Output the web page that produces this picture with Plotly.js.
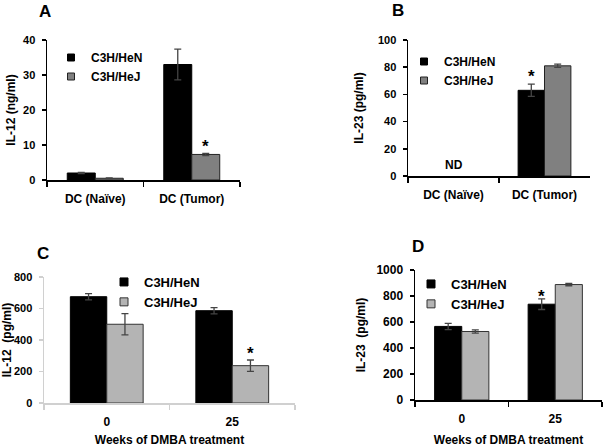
<!DOCTYPE html>
<html>
<head>
<meta charset="utf-8">
<script src="https://cdn.plot.ly/plotly-3.0.1.min.js"></script>
<style>html,body{margin:0;padding:0;background:#fff;}#chart{width:603px;height:447px;}</style>
</head>
<body>
<div id="chart"></div>
<script>
// ---- Data ----
const seriesNames = ['C3H/HeN', 'C3H/HeJ'];

const catsAB = ['DC (Naïve)', 'DC (Tumor)'];
const a_HeN = [2.0, 33.0];
const a_HeN_err = [0.2, 4.4];
const a_HeJ = [0.5, 7.3];
const a_HeJ_err = [0.1, 0.3];

const b_HeN = [null, 63];
const b_HeN_err = [0, 4.5];
const b_HeJ = [null, 81];
const b_HeJ_err = [0, 1.2];

const catsCD = ['0', '25'];
const c_HeN = [675, 586];
const c_HeN_err = [20, 20];
const c_HeJ = [500, 237];
const c_HeJ_err = [68, 36];

const d_HeN = [566, 737];
const d_HeN_err = [24, 41];
const d_HeJ = [527, 888];
const d_HeJ_err = [13, 9];

// ---- Layout helpers ----
const W = 603, H = 447;
const px = v => v / W;
const py = v => 1 - v / H;
const FONT = 'Liberation Sans, Arial, sans-serif';
const bold = (t) => '<b>' + t + '</b>';

function bar(x, y, err, color, lineColor, xa, ya) {
  return {
    type: 'bar', x: x, y: y, showlegend: false,
    xaxis: xa, yaxis: ya,
    marker: {color: color, line: {color: lineColor, width: 1}},
    error_y: {type: 'data', array: err, visible: true, color: '#444', thickness: 1.3, width: 3.5},
    hoverinfo: 'none'
  };
}
// legend-only entries (small square keys, as in the original figure)
function key(name, color, lineColor, xa, ya, leg, size) {
  return {
    type: 'scatter', mode: 'markers', x: [null], y: [null], name: bold(name),
    xaxis: xa, yaxis: ya, legend: leg, showlegend: true,
    marker: {symbol: 'square', size: size, color: color, line: {color: lineColor, width: 1}},
    hoverinfo: 'none'
  };
}

const darkGray = '#808080', lightGray = '#b4b4b4';
const data = [
  bar(catsAB, a_HeN, a_HeN_err, '#000', '#000', 'x', 'y'),
  bar(catsAB, a_HeJ, a_HeJ_err, darkGray, '#222', 'x', 'y'),
  bar(catsAB, b_HeN, b_HeN_err, '#000', '#000', 'x2', 'y2'),
  bar(catsAB, b_HeJ, b_HeJ_err, darkGray, '#222', 'x2', 'y2'),
  bar(catsCD, c_HeN, c_HeN_err, '#000', '#000', 'x3', 'y3'),
  bar(catsCD, c_HeJ, c_HeJ_err, lightGray, '#333', 'x3', 'y3'),
  bar(catsCD, d_HeN, d_HeN_err, '#000', '#000', 'x4', 'y4'),
  bar(catsCD, d_HeJ, d_HeJ_err, lightGray, '#333', 'x4', 'y4'),
  key(seriesNames[0], '#000', '#000', 'x', 'y', 'legend', 7),
  key(seriesNames[1], darkGray, '#222', 'x', 'y', 'legend', 7),
  key(seriesNames[0], '#000', '#000', 'x2', 'y2', 'legend2', 7),
  key(seriesNames[1], darkGray, '#222', 'x2', 'y2', 'legend2', 7),
  key(seriesNames[0], '#000', '#000', 'x3', 'y3', 'legend3', 8),
  key(seriesNames[1], lightGray, '#333', 'x3', 'y3', 'legend3', 8),
  key(seriesNames[0], '#000', '#000', 'x4', 'y4', 'legend4', 8),
  key(seriesNames[1], lightGray, '#333', 'x4', 'y4', 'legend4', 8)
];

function xAxis(dom, ya, cats, lineColor, titleText) {
  const ax = {
    domain: dom, anchor: ya, type: 'category',
    categoryorder: 'array', categoryarray: cats,
    tickvals: cats, ticktext: cats.map(bold),
    showline: true, linecolor: lineColor, linewidth: 1.5,
    ticks: 'outside', tickson: 'boundaries', ticklen: 5, tickcolor: lineColor, tickwidth: 1.5,
    ticklabelstandoff: 7,
    showgrid: false, zeroline: false, fixedrange: true, automargin: false,
    tickfont: {family: FONT, size: 12, color: '#000'}
  };
  if (titleText) ax.title = {text: bold(titleText), font: {family: FONT, size: 12, color: '#000'}, standoff: 13};
  return ax;
}
function yAxis(dom, xa, range, dtick, lineColor, titleText, standoff, fs) {
  const vals = [];
  for (let v = range[0]; v <= range[1] + 1e-9; v += dtick) vals.push(v);
  return {
    domain: dom, anchor: xa, range: range,
    tickvals: vals, ticktext: vals.map(v => bold(String(v))),
    showline: true, linecolor: lineColor, linewidth: 1.5,
    ticks: 'outside', ticklen: 4, tickcolor: lineColor, tickwidth: 1.5,
    ticklabelstandoff: 4,
    showgrid: false, zeroline: false, fixedrange: true, automargin: false,
    tickfont: {family: FONT, size: fs, color: '#000'},
    title: {text: bold(titleText), font: {family: FONT, size: 12, color: '#000'}, standoff: standoff}
  };
}
function legend(xl, yt, size) {
  return {x: px(xl), y: py(yt), xanchor: 'left', yanchor: 'top', bgcolor: 'rgba(0,0,0,0)',
          font: {family: FONT, size: size, color: '#000'}, tracegroupgap: 0, itemwidth: 30};
}
function letter(t, x, y) {
  return {text: bold(t), xref: 'paper', yref: 'paper', x: px(x), y: py(y), showarrow: false,
          font: {family: FONT, size: 17, color: '#000'}, xanchor: 'center', yanchor: 'middle'};
}
function star(xa, ya, xpos, yval, shift) {
  return {text: '<b>*</b>', xref: xa, yref: ya, x: xpos, y: yval, showarrow: false,
          yanchor: 'bottom', yshift: shift, font: {family: FONT, size: 17, color: '#000'}};
}

const light = '#d0d0d0';
const layout = {
  width: W, height: H,
  margin: {l: 0, r: 0, t: 0, b: 0},
  paper_bgcolor: '#fff', plot_bgcolor: 'rgba(0,0,0,0)',
  barmode: 'group', bargap: 0.42, bargroupgap: 0,
  showlegend: true,
  xaxis: xAxis([px(47), px(240)], 'y', catsAB, '#000'),
  yaxis: yAxis([py(180), py(40)], 'x', [0, 40], 10, '#000', 'IL-12 (ng/ml)', 5, 11),
  xaxis2: xAxis([px(408), px(590)], 'y2', catsAB, '#000'),
  yaxis2: yAxis([py(176), py(40)], 'x2', [0, 100], 20, '#000', 'IL-23 (pg/ml)', 11, 11),
  xaxis3: xAxis([px(44), px(295)], 'y3', catsCD, light, 'Weeks of DMBA treatment'),
  yaxis3: yAxis([py(403), py(277)], 'x3', [0, 800], 200, light, 'IL-12  (pg/ml)', 2, 11),
  xaxis4: xAxis([px(415), px(602)], 'y4', catsCD, '#000', 'Weeks of DMBA treatment'),
  yaxis4: yAxis([py(400), py(270)], 'x4', [0, 1000], 200, '#000', 'IL-23  (pg/ml)', 8, 12),
  legend: legend(51, 43, 12),
  legend2: legend(404, 47, 12),
  legend3: legend(104, 267, 13),
  legend4: legend(411, 269, 13),
  annotations: [
    letter('A', 45, 11),
    letter('B', 398, 10),
    letter('C', 43, 253),
    letter('D', 418, 246),
    star('x', 'y', 1.145, a_HeJ[1] + a_HeJ_err[1], -5),
    star('x2', 'y2', 0.855, b_HeN[1] + b_HeN_err[1], -4),
    star('x3', 'y3', 1.145, c_HeJ[1] + c_HeJ_err[1], -5),
    star('x4', 'y4', 0.855, d_HeN[1] + d_HeN_err[1], -9),
    {text: '<b>ND</b>', xref: 'x2', yref: 'y2', x: 0, y: 8, showarrow: false,
     font: {family: FONT, size: 12, color: '#000'}}
  ]
};

Plotly.newPlot('chart', data, layout, {displayModeBar: false, staticPlot: true});
</script>
</body>
</html>
